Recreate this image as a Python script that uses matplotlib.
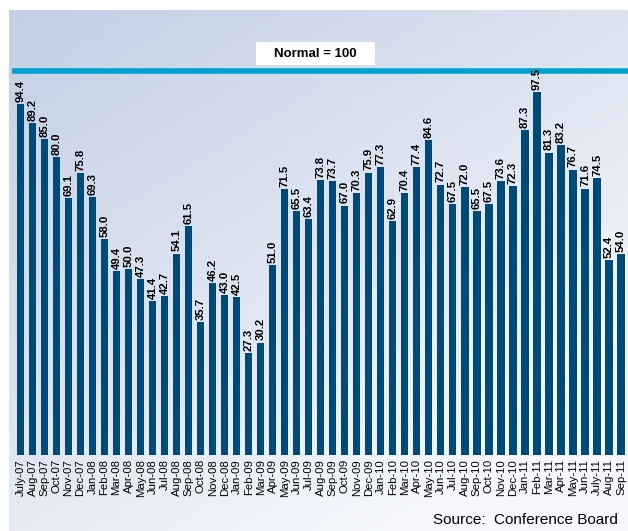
import numpy as np
import matplotlib
matplotlib.use("Agg")
import matplotlib.pyplot as plt
from matplotlib.colors import LinearSegmentedColormap
from matplotlib.patches import Rectangle

months = ["July-07", "Aug-07", "Sep-07", "Oct-07", "Nov-07", "Dec-07",
          "Jan-08", "Feb-08", "Mar-08", "Apr-08", "May-08", "Jun-08",
          "Jul-08", "Aug-08", "Sep-08", "Oct-08", "Nov-08", "Dec-08",
          "Jan-09", "Feb-09", "Mar-09", "Apr-09", "May-09", "Jun-09",
          "Jul-09", "Aug-09", "Sep-09", "Oct-09", "Nov-09", "Dec-09",
          "Jan-10", "Feb-10", "Mar-10", "Apr-10", "May-10", "Jun-10",
          "Jul-10", "Aug-10", "Sep-10", "Oct-10", "Nov-10", "Dec-10",
          "Jan-11", "Feb-11", "Mar-11", "Apr-11", "May-11", "Jun-11",
          "July-11", "Aug-11", "Sep-11"]
values = [94.4, 89.2, 85.0, 80.0, 69.1, 75.8, 69.3, 58.0, 49.4, 50.0, 47.3,
          41.4, 42.7, 54.1, 61.5, 35.7, 46.2, 43.0, 42.5, 27.3, 30.2, 51.0,
          71.5, 65.5, 63.4, 73.8, 73.7, 67.0, 70.3, 75.9, 77.3, 62.9, 70.4,
          77.4, 84.6, 72.7, 67.5, 72.0, 65.5, 67.5, 73.6, 72.3, 87.3, 97.5,
          81.3, 83.2, 76.7, 71.6, 74.5, 52.4, 54.0]
normal_label = "Normal = 100"
source_text = "Source:  Conference Board"

plt.rcParams['font.family'] = ['Liberation Sans', 'DejaVu Sans']

W, H = 628, 531
fig = plt.figure(figsize=(W / 100, H / 100), dpi=100)
fig.patch.set_facecolor("white")

# gradient background panel
bg = fig.add_axes([9 / W, 0, 1 - 9 / W, (H - 10) / H], zorder=0)
ny, nx = 200, 200
yy, xx = np.mgrid[0:1:ny * 1j, 0:1:nx * 1j]
t = np.clip(0.55 * xx + 0.75 * yy, 0, 1.1) / 1.1
cmap = LinearSegmentedColormap.from_list("bg", ["#c2cfe5", "#dce3f0", "#f6f8fc"])
bg.imshow(t, cmap=cmap, aspect="auto", extent=[0, 1, 0, 1], origin="upper",
          interpolation="bilinear")
bg.set_axis_off()

ax = fig.add_axes([12 / W, (H - 455) / H, 1 - 12 / W, 445 / H], zorder=1)
ax.patch.set_alpha(0)
x = np.arange(len(values))
ax.bar(x, values, width=0.6, color="#004a78", zorder=2)
ax.set_xlim(-0.71, 50.58)
ax.set_ylim(0, 119.6)

for xi, v in zip(x, values):
    ax.text(xi, v + 0.6, f"{v:.1f}", rotation=90, ha="center", va="bottom",
            fontsize=8.2, fontweight="bold", color="black", zorder=3)

# "Normal" reference band, drawn as a decoration above all bars
ax.axhline(0.863 * 119.6, color="#00a2cf", lw=4, zorder=2)
ax.add_patch(Rectangle((0.396, 0.876), 0.193, 0.052, transform=ax.transAxes,
                       facecolor="white", edgecolor="none", zorder=3))
ax.text(0.4925, 0.902, normal_label, transform=ax.transAxes, ha="center",
        va="center", fontsize=9.5, fontweight="bold", color="black", zorder=4)

ax.set_xticks(x)
ax.set_xticklabels(months, rotation=90, fontsize=8.2, va="top", ha="center")
ax.tick_params(axis="x", length=0, pad=3)
ax.set_yticks([])
for s in ax.spines.values():
    s.set_visible(False)

fig.text(618 / W, 1 - 520 / H, source_text, ha="right", va="center",
         fontsize=11, color="black")

fig.savefig("out.png", dpi=100)
